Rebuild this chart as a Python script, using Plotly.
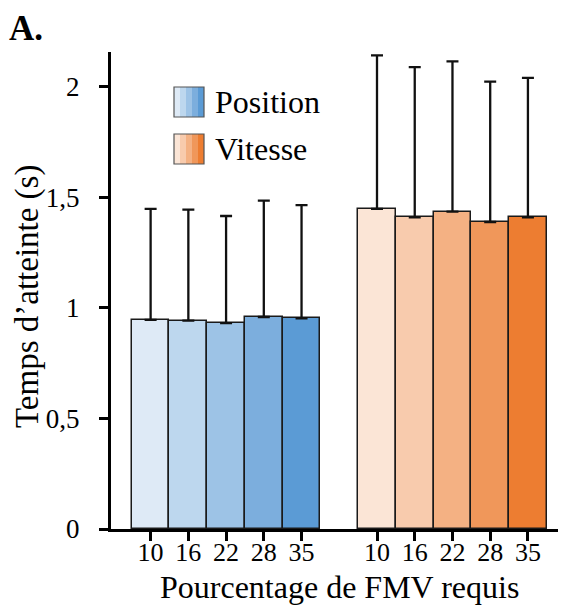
import plotly.graph_objects as go

# ---- data ----
categories = ["10", "16", "22", "28", "35"]
position_mean = [0.946, 0.943, 0.931, 0.959, 0.953]
position_top = [1.448, 1.445, 1.416, 1.486, 1.465]
vitesse_mean = [1.448, 1.410, 1.436, 1.389, 1.410]
vitesse_top = [2.143, 2.090, 2.116, 2.024, 2.041]
y_ticks = [0, 0.5, 1, 1.5, 2]
y_tick_labels = ["0", "0,5", "1", "1,5", "2"]

blue_colors = ["#DEEAF6", "#BDD7EE", "#9DC3E6", "#7CAEDD", "#5B9BD5"]
orange_colors = ["#FBE5D6", "#F8CBAD", "#F4B183", "#F0975A", "#ED7D31"]

# the page body has an 8px default margin, so the figure is laid out 8px smaller
OFF = 8
W, H = 566 - OFF, 607 - OFF
L, R, T, B = 111 - OFF, 6, 52 - OFF, 78
FONT = "Liberation Serif"

pos_x = list(range(5))
vit_x = [i + 6 for i in range(5)]

fig = go.Figure()

def add_series(xs, means, tops, colors, name):
    fig.add_trace(go.Bar(
        x=xs, y=means, width=1, name=name,
        marker=dict(color=colors, line=dict(color="#1a1a1a", width=1.5)),
        error_y=dict(type="data", symmetric=False,
                     array=[t - m for t, m in zip(tops, means)],
                     arrayminus=[0] * len(means),
                     color="#111111", thickness=2.3, width=6),
        showlegend=False,
    ))

add_series(pos_x, position_mean, position_top, blue_colors, "Position")
add_series(vit_x, vitesse_mean, vitesse_top, orange_colors, "Vitesse")

pw, ph = W - L - R, H - T - B

# positions given in page pixels (as in the reference picture)
def px(x):
    return (x - OFF - L) / pw

def py(y):
    return (H - B - (y - OFF)) / ph

shapes = []
annotations = []
for (label, colors, top) in [("Position", blue_colors, 87), ("Vitesse", orange_colors, 134)]:
    x0, size = 174, 30
    sw = size / len(colors)
    for i, c in enumerate(colors):
        shapes.append(dict(type="rect", xref="paper", yref="paper",
                           x0=px(x0 + i * sw), x1=px(x0 + (i + 1) * sw),
                           y0=py(top + size), y1=py(top),
                           fillcolor=c, line=dict(width=0), layer="above"))
    shapes.append(dict(type="rect", xref="paper", yref="paper",
                       x0=px(x0), x1=px(x0 + size), y0=py(top + size), y1=py(top),
                       line=dict(color="#555555", width=1.2), layer="above"))
    annotations.append(dict(text=label, xref="paper", yref="paper",
                            x=px(214), y=py(top + size / 2), xanchor="left", yanchor="middle",
                            showarrow=False, borderpad=0,
                            font=dict(family=FONT, size=32, color="black")))

annotations.append(dict(text="<b>A.</b>", xref="paper", yref="paper",
                        x=px(8), y=py(OFF), xanchor="left", yanchor="top",
                        showarrow=False, borderpad=0,
                        font=dict(family=FONT, size=35, color="black")))

annotations.append(dict(text="Pourcentage de FMV requis", xref="paper", yref="paper",
                        x=px(339), y=py(587), xanchor="center", yanchor="middle",
                        showarrow=False, borderpad=0,
                        font=dict(family=FONT, size=32, color="black")))
annotations.append(dict(text="Temps d’atteinte (s)", xref="paper", yref="paper",
                        x=px(27), y=py(297), xanchor="center", yanchor="middle",
                        textangle=-90, showarrow=False, borderpad=0,
                        font=dict(family=FONT, size=33, color="black")))

fig.update_layout(
    width=W, height=H,
    margin=dict(l=L, r=R, t=T, b=B, pad=0),
    paper_bgcolor="white", plot_bgcolor="white",
    bargap=0, barmode="overlay",
    font=dict(family=FONT, color="black"),
    shapes=shapes, annotations=annotations,
    xaxis=dict(range=[-1.05, 10.85], tickvals=pos_x + vit_x, ticktext=categories + categories,
               showline=True, linecolor="black", linewidth=3, automargin=False,
               ticks="outside", ticklen=9, tickwidth=3, tickcolor="black",
               ticklabelstandoff=-11,
               tickfont=dict(family=FONT, size=26), showgrid=False, zeroline=False),
    yaxis=dict(range=[0, 2.158], tickvals=y_ticks, ticktext=y_tick_labels,
               showline=True, linecolor="black", linewidth=3, automargin=False,
               ticks="outside", ticklen=9, tickwidth=3, tickcolor="black",
               ticklabelstandoff=14,
               tickfont=dict(family=FONT, size=27), showgrid=False, zeroline=False),
)

fig.write_html("out.html")
